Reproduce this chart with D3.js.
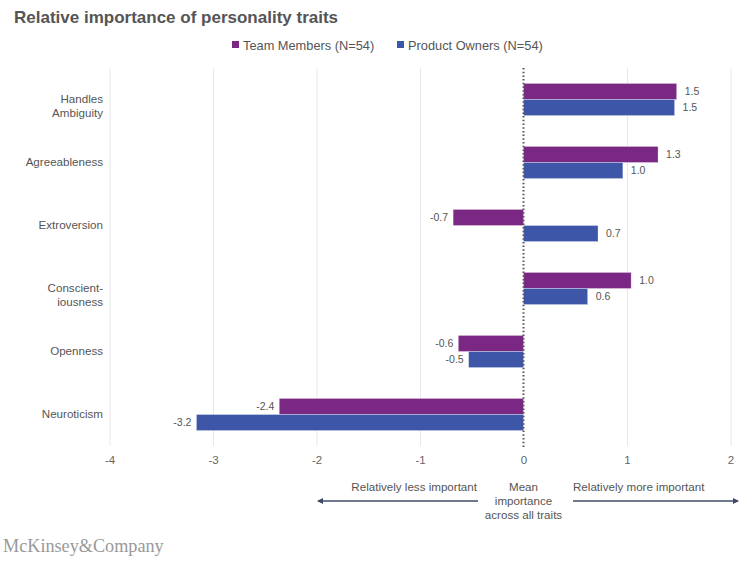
<!DOCTYPE html>
<html><head><meta charset="utf-8">
<script src="https://cdn.jsdelivr.net/npm/d3@7"></script>
<style>body{margin:0;background:#fff;} svg{display:block;font-family:Arial,"Liberation Sans",sans-serif;}</style>
</head><body>
<svg id="c" width="752" height="585"></svg>
<script>
const categories = [["Handles","Ambiguity"],["Agreeableness"],["Extroversion"],["Conscient-","iousness"],["Openness"],["Neuroticism"]];
const teamMembers = [1.48, 1.30, -0.68, 1.04, -0.63, -2.36];
const productOwners = [1.46, 0.96, 0.72, 0.62, -0.53, -3.16];
const seriesNames = ["Team Members (N=54)", "Product Owners (N=54)"];
const xTicks = [-4,-3,-2,-1,0,1,2];
const colors = ["#7a2883", "#3d56a8"];

const svg = d3.select("#c");
const plotTop = 68, plotBottom = 446;
const x = d3.scaleLinear().domain([-4,2]).range([109.5,730.5]);
const y = d3.scaleBand().domain(d3.range(categories.length)).range([plotTop,plotBottom]).paddingInner(0.49).paddingOuter(0.245);

svg.append("text").attr("x",14).attr("y",23).attr("font-size",17).attr("font-weight","bold").attr("fill","#555").text("Relative importance of personality traits");

// legend
const lg = [{x:232,t:seriesNames[0],c:colors[0]},{x:397,t:seriesNames[1],c:colors[1]}];
lg.forEach(l=>{
  svg.append("rect").attr("x",l.x).attr("y",41).attr("width",7).attr("height",7).attr("fill",l.c);
  svg.append("text").attr("x",l.x+11).attr("y",49.5).attr("font-size",12.8).attr("fill","#555").text(l.t);
});

// gridlines
const ax = svg.append("g").attr("transform",`translate(0,${plotBottom})`)
  .call(d3.axisBottom(x).tickValues(xTicks).tickSize(-(plotBottom-plotTop)).tickPadding(10).tickFormat(d=>String(d)));
ax.select(".domain").remove();
ax.selectAll(".tick line").attr("stroke",d=>d===0?"none":"#e8e8ec");
ax.selectAll(".tick text").attr("font-size",11.5).attr("fill","#666").attr("font-family","Arial,'Liberation Sans',sans-serif");

const bh = y.bandwidth()/2;
const data = [teamMembers, productOwners];
data.forEach((vals,si)=>{
  const g = svg.append("g");
  g.selectAll("rect").data(vals).join("rect")
    .attr("x",d=>x(Math.min(0,d))).attr("width",d=>Math.abs(x(d)-x(0)))
    .attr("y",(d,i)=>y(i)+si*bh).attr("height",bh)
    .attr("fill",colors[si]).attr("stroke","#ffffff").attr("stroke-opacity",0.5).attr("stroke-width",0.6);
  g.selectAll("text").data(vals).join("text")
    .attr("x",d=>d>=0?x(d)+8:x(d)-5)
    .attr("y",(d,i)=>y(i)+si*bh+bh/2+3.5)
    .attr("text-anchor",d=>d>=0?"start":"end")
    .attr("font-size",10.5).attr("fill","#555")
    .text(d=>d.toFixed(1));
});

// zero dotted line
svg.append("line").attr("x1",x(0)).attr("x2",x(0)).attr("y1",plotTop).attr("y2",plotBottom+2)
  .attr("stroke","#555").attr("stroke-width",2).attr("stroke-dasharray","1.5,2.2");

// category labels
categories.forEach((lines,i)=>{
  const cy = y(i)+y.bandwidth()/2;
  const t = svg.append("text").attr("text-anchor","end").attr("font-size",11.6).attr("fill","#555");
  lines.forEach((ln,j)=>{
    t.append("tspan").attr("x",103).attr("y",cy+3+j*14).text(ln);
  });
});

// annotations
svg.append("defs").html('<marker id="ah" viewBox="0 0 6 6" refX="5" refY="3" markerWidth="4" markerHeight="4" orient="auto-start-reverse"><path d="M0,0L6,3L0,6z" fill="#3f4b66"/></marker>');
svg.append("text").attr("x",477).attr("y",491).attr("text-anchor","end").attr("font-size",11.6).attr("fill","#555").text("Relatively less important");
svg.append("text").attr("x",573).attr("y",491).attr("text-anchor","start").attr("font-size",11.6).attr("fill","#555").text("Relatively more important");
const mt = svg.append("text").attr("text-anchor","middle").attr("font-size",11.6).attr("fill","#555");
["Mean","importance","across all traits"].forEach((s,j)=>mt.append("tspan").attr("x",x(0)).attr("y",491+j*14).text(s));
svg.append("line").attr("x1",478).attr("x2",318).attr("y1",501).attr("y2",501).attr("stroke","#3f4b66").attr("stroke-width",1.5).attr("marker-end","url(#ah)");
svg.append("line").attr("x1",573).attr("x2",738).attr("y1",501).attr("y2",501).attr("stroke","#3f4b66").attr("stroke-width",1.5).attr("marker-end","url(#ah)");

svg.append("text").attr("x",3).attr("y",552).attr("font-size",18.2).attr("fill","#999").attr("font-family","'Liberation Serif','DejaVu Serif',serif").text("McKinsey&Company");
</script>
</body></html>
